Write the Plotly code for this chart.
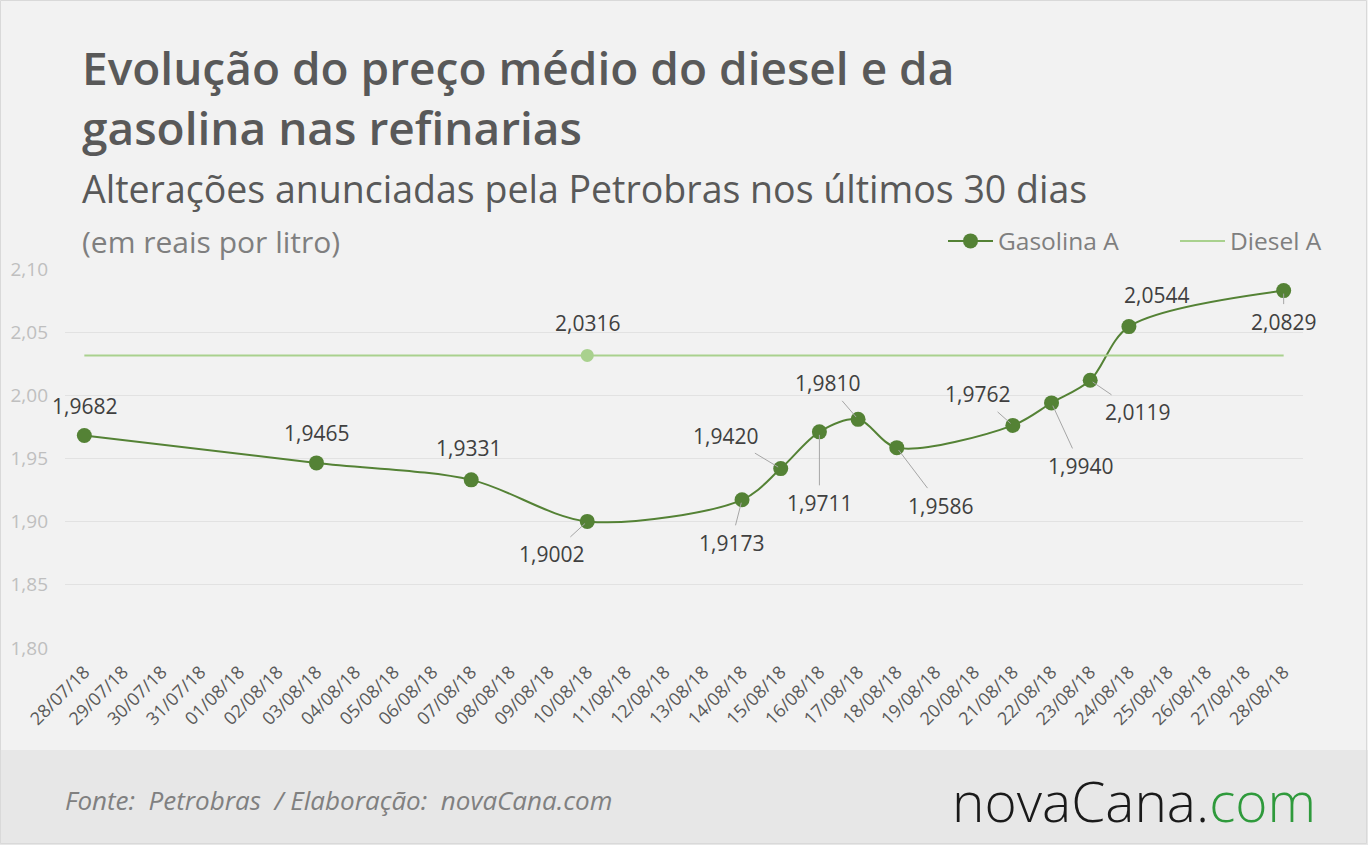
import plotly.graph_objects as go

# ---------------- data ----------------
categories = ["28/07/18", "29/07/18", "30/07/18", "31/07/18"] + [f"{d:02d}/08/18" for d in range(1, 29)]

gas_dates = ["28/07/18", "03/08/18", "07/08/18", "10/08/18", "14/08/18", "15/08/18", "16/08/18",
             "17/08/18", "18/08/18", "21/08/18", "22/08/18", "23/08/18", "24/08/18", "28/08/18"]
gas_values = [1.9682, 1.9465, 1.9331, 1.9002, 1.9173, 1.9420, 1.9711,
              1.9810, 1.9586, 1.9762, 1.9940, 2.0119, 2.0544, 2.0829]

diesel_dates = ["28/07/18", "10/08/18", "28/08/18"]
diesel_values = [2.0316, 2.0316, 2.0316]
diesel_marker_date = "10/08/18"
diesel_marker_value = 2.0316

y_ticks = [1.80, 1.85, 1.90, 1.95, 2.00, 2.05, 2.10]

# label offsets (pixels, text centre relative to point) and whether a leader line is drawn
label_dx = [0, 0, -3, -36, -11, -55, 0, -31, 44, -35, 29, 47, 28, 0]
label_dy = [-30, -30, -32, 33, 43, -33, 71, -36, 58, -31, 63, 32, -32, 31]
label_leader = [False, False, False, True, True, True, True, True, True, True, True, True, False, True]

# ---------------- layout geometry ----------------
W, H = 1368, 845
L, R = 65, 1303
T, B = 269, 648
PW, PH = R - L, B - T


def px_x(px):
    return (px - L) / PW


def px_y(py):
    return (B - py) / PH


def fmt(v):
    return f"{v:.4f}".replace(".", ",")


GREEN = "#548235"
LIGHT_GREEN = "#a9d18e"
FONT = "Open Sans"

fig = go.Figure()

fig.add_trace(go.Scatter(
    x=gas_dates, y=gas_values, name="Gasolina A", mode="lines+markers",
    line=dict(color=GREEN, width=2, shape="spline", smoothing=0.9),
    marker=dict(color=GREEN, size=15),
))
fig.add_trace(go.Scatter(
    x=diesel_dates, y=diesel_values, name="Diesel A", mode="lines",
    line=dict(color=LIGHT_GREEN, width=2),
))
fig.add_trace(go.Scatter(
    x=[diesel_marker_date], y=[diesel_marker_value], mode="markers", showlegend=False,
    marker=dict(color=LIGHT_GREEN, size=13),
))

LABEL_FONT = dict(family=FONT, size=21, color="#404040")
annotations = []
for d, v, dx, dy, lead in zip(gas_dates, gas_values, label_dx, label_dy, label_leader):
    if lead:
        annotations.append(dict(
            x=d, y=v, xref="x", yref="y", text=fmt(v), showarrow=True,
            ax=dx, ay=dy, arrowhead=0, arrowwidth=1, arrowcolor="#a6a6a6",
            standoff=3, borderpad=3, font=LABEL_FONT,
        ))
    else:
        annotations.append(dict(
            x=d, y=v, xref="x", yref="y", text=fmt(v), showarrow=False,
            xshift=dx, yshift=-dy, font=LABEL_FONT,
        ))
annotations.append(dict(
    x=diesel_marker_date, y=diesel_marker_value, xref="x", yref="y", text=fmt(diesel_marker_value),
    showarrow=False, yshift=32, font=LABEL_FONT,
))

TITLE_FONT = dict(family=FONT, size=46, color="#595959", weight=600)
annotations += [
    dict(x=px_x(80), y=px_y(34), xref="paper", yref="paper", xanchor="left", yanchor="top",
         text="Evolução do preço médio do diesel e da<br>gasolina nas refinarias",
         showarrow=False, align="left", font=TITLE_FONT),
    dict(x=px_x(80), y=px_y(189), xref="paper", yref="paper", xanchor="left", yanchor="middle",
         text="Alterações anunciadas pela Petrobras nos últimos 30 dias", showarrow=False,
         font=dict(family=FONT, size=37.5, color="#595959")),
    dict(x=px_x(80), y=px_y(241), xref="paper", yref="paper", xanchor="left", yanchor="middle",
         text="(em reais por litro)", showarrow=False,
         font=dict(family=FONT, size=30, color="#7f7f7f")),
    dict(x=px_x(63), y=px_y(800), xref="paper", yref="paper", xanchor="left", yanchor="middle",
         text="<i>Fonte:  Petrobras  / Elaboração:  novaCana.com</i>", showarrow=False,
         font=dict(family=FONT, size=26, color="#808080")),
    dict(x=px_x(1318), y=px_y(800), xref="paper", yref="paper", xanchor="right", yanchor="middle",
         text="novaCana.<span style='color:#2f9a3c'>com</span>", showarrow=False,
         font=dict(family=FONT, size=55, color="#1a1a1a", weight=300)),
]

shapes = [
    dict(type="rect", xref="paper", yref="paper", x0=px_x(0), x1=px_x(W), y0=px_y(750), y1=px_y(H),
         fillcolor="#e7e7e7", line=dict(width=0), layer="below"),
    dict(type="rect", xref="paper", yref="paper", x0=px_x(0.5), x1=px_x(W - 1.5), y0=px_y(0.5), y1=px_y(H - 1.5),
         fillcolor="rgba(0,0,0,0)", line=dict(width=1, color="#d9d9d9")),
]

fig.update_layout(
    width=W, height=H,
    margin=dict(l=L, r=W - R, t=T, b=H - B, autoexpand=False),
    paper_bgcolor="#f2f2f2", plot_bgcolor="#f2f2f2",
    separators=",.",
    font=dict(family=FONT, color="#595959"),
    showlegend=True,
    legend=dict(orientation="h", x=px_x(943), xanchor="left", y=px_y(241), yanchor="middle",
                font=dict(family=FONT, size=24.5, color="#7f7f7f"), bgcolor="rgba(0,0,0,0)",
                itemwidth=45, entrywidth=172, entrywidthmode="pixels", traceorder="normal"),
    annotations=annotations,
    shapes=shapes,
    xaxis=dict(type="category", categoryorder="array", categoryarray=categories,
               tickvals=categories, ticktext=categories,
               range=[-0.5, len(categories) - 0.5], tickangle=-45,
               tickfont=dict(family=FONT, size=18, color="#595959"),
               showgrid=False, zeroline=False, showline=False, ticks="", ticklabelstandoff=9),
    yaxis=dict(range=[1.80, 2.10], tickvals=y_ticks, tickformat=".2f",
               tickfont=dict(family=FONT, size=19, color="#bfbfbf"),
               gridcolor="#e2e2e2", gridwidth=1, zeroline=False, showline=False,
               ticks="", ticklabelstandoff=16),
)

fig.write_html("out.html")
